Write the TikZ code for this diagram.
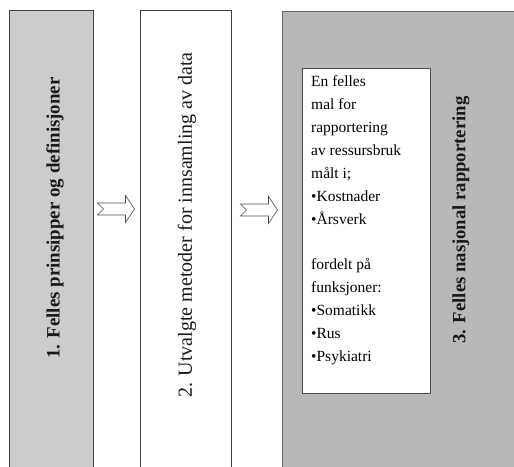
\documentclass[tikz,border=0pt]{standalone}
\usepackage{fontspec}
\setmainfont{Liberation Serif}
\begin{document}
\begin{tikzpicture}[x=1pt,y=-1pt,
  panel/.style={draw=black!75, line width=0.8pt, anchor=north west, inner sep=0pt},
  steplabel/.style={rotate=90, inner sep=0pt, text=black!90},
  listbox/.style={draw=black!70, line width=0.7pt, fill=white, anchor=north west, inner sep=0pt},
  hollowline/.style={draw=black!70, line width=0.6pt, fill=white, line join=miter},
  hollow arrow/.pic={
    \path[hollowline] (0,-6) -- (28,-6) -- (28,-13.5) -- (37,0) -- (28,13.5)
      -- (28,6) -- (0,6) -- (6,0) -- cycle;
  }]
\useasboundingbox (0,0) rectangle (514,466);
\clip (0,0) rectangle (514,466);

% three stage panels, running off the lower edge
\node[panel, fill=black!20, minimum width=84pt, minimum height=470pt] (p1) at (9,10) {};
\node[panel, fill=white, minimum width=91pt, minimum height=470pt] (p2) at (140,10) {};
\node[panel, fill=black!28, draw=black!60, minimum width=240pt, minimum height=470pt] (p3) at (282,11) {};

% rotated stage titles
\node[steplabel, font=\fontsize{18.9}{22}\selectfont\bfseries] (t1) at (55,218)
  {1. Felles prinsipper og definisjoner};
\node[steplabel, font=\fontsize{20}{24}\selectfont] (t2) at (187,225)
  {2. Utvalgte metoder for innsamling av data};
\node[steplabel, font=\fontsize{18.7}{22}\selectfont\bfseries] (t3) at (461,220)
  {3. Felles nasjonal rapportering};

% white box with the reporting template
\node[listbox, minimum width=128pt, minimum height=325pt] (tpl) at (302,68) {};
\node[anchor=north west, inner sep=0pt, align=left,
      font=\fontsize{15.5}{22.9}\selectfont] (tpltext) at (311,75.5)
  {En felles\\mal for\\rapportering\\av ressursbruk\\målt i;\\\textbullet Kostnader\\\textbullet Årsverk\\[22.9pt]fordelt på\\funksjoner:\\\textbullet Somatikk\\\textbullet Rus\\\textbullet Psykiatri};

% hollow arrows between the panels
\coordinate (a1) at (97.5,209);
\coordinate (a2) at (240.5,210);
\pic at (a1) {hollow arrow};
\pic at (a2) {hollow arrow};
\end{tikzpicture}
\end{document}
